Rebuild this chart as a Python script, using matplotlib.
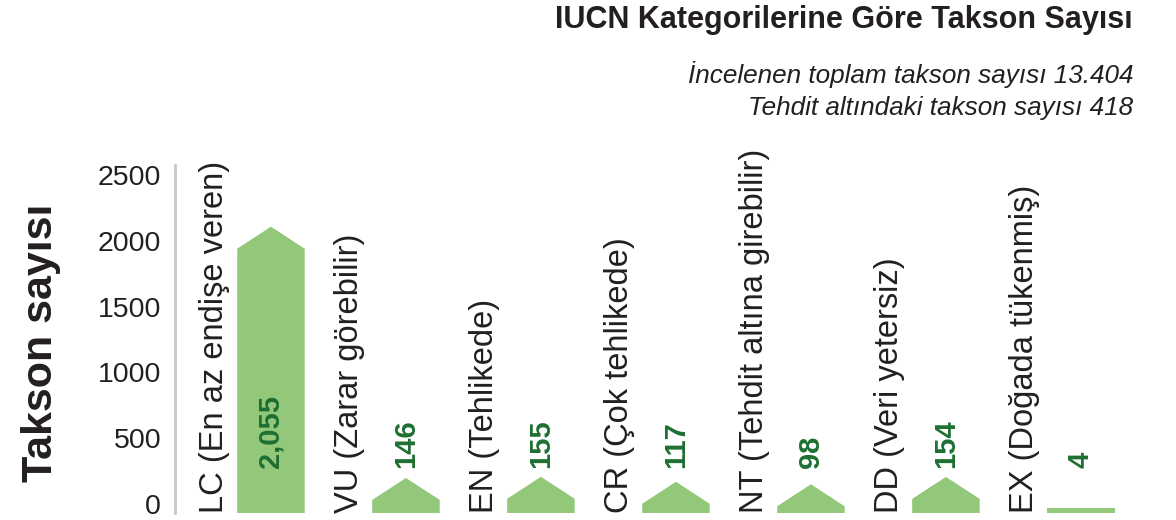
import matplotlib.pyplot as plt
from matplotlib.patches import Polygon

plt.rcParams['font.family'] = ['Liberation Sans', 'DejaVu Sans']

codes = ['LC', 'VU', 'EN', 'CR', 'NT', 'DD', 'EX']
names = ['En az endişe veren', 'Zarar görebilir', 'Tehlikede', 'Çok tehlikede',
         'Tehdit altına girebilir', 'Veri yetersiz', 'Doğada tükenmiş']
counts = [2055, 146, 155, 117, 98, 154, 4]
yticks = [0, 500, 1000, 1500, 2000, 2500]

bar_green = '#93c87b'
text_green = '#1e6f32'
ink = '#231f20'

fig = plt.figure(figsize=(11.76, 5.2), dpi=100)
ax = fig.add_axes([0.1488, 0.0135, 0.829, 0.6692])

base = -68
cap = 167
half = 0.25
for i, v in enumerate(counts):
    # bars end in a small roof; very small values are just a thin strip
    if v < 20:
        pts = [(i - half, base), (i - half, base + 38), (i + half, base + 38), (i + half, base)]
    else:
        sh = max(v - 115, base)
        pts = [(i - half, base), (i - half, sh), (i, sh + cap), (i + half, sh), (i + half, base)]
    ax.add_patch(Polygon(pts, closed=True, facecolor=bar_green, edgecolor='none'))
    ax.text(i, 275, f'{v:,}', rotation=90, ha='center', va='bottom',
            fontsize=21, fontweight='bold', color=text_green)
    ax.text(i - 0.42, base, f'{codes[i]} ({names[i]})', rotation=90, ha='center',
            va='bottom', fontsize=23.5, color=ink)

ax.set_xlim(-0.711, 6.511)
ax.set_ylim(base, 2576)
ax.set_yticks(yticks)
ax.set_xticks([])
ax.tick_params(axis='y', length=0, pad=10, labelsize=20.5, labelcolor=ink)
for s in ['top', 'right', 'bottom']:
    ax.spines[s].set_visible(False)
ax.spines['left'].set_color('#c8c8c8')
ax.spines['left'].set_linewidth(2)
ax.patch.set_alpha(0)

fig.text(41 / 1176, 1 - 343 / 520, 'Takson sayısı', rotation=90, ha='center', va='center',
         fontsize=31, fontweight='bold', color=ink)
fig.text(1133 / 1176, 1 - 20 / 520, 'IUCN Kategorilerine Göre Takson Sayısı', ha='right',
         va='center', fontsize=22, fontweight='bold', color=ink)
fig.text(1133 / 1176, 1 - 75 / 520, 'İncelenen toplam takson sayısı 13.404', ha='right',
         va='center', fontsize=18.8, style='italic', color=ink)
fig.text(1133 / 1176, 1 - 108 / 520, 'Tehdit altındaki takson sayısı 418', ha='right',
         va='center', fontsize=18.8, style='italic', color=ink)

plt.savefig('out.png', dpi=100)
